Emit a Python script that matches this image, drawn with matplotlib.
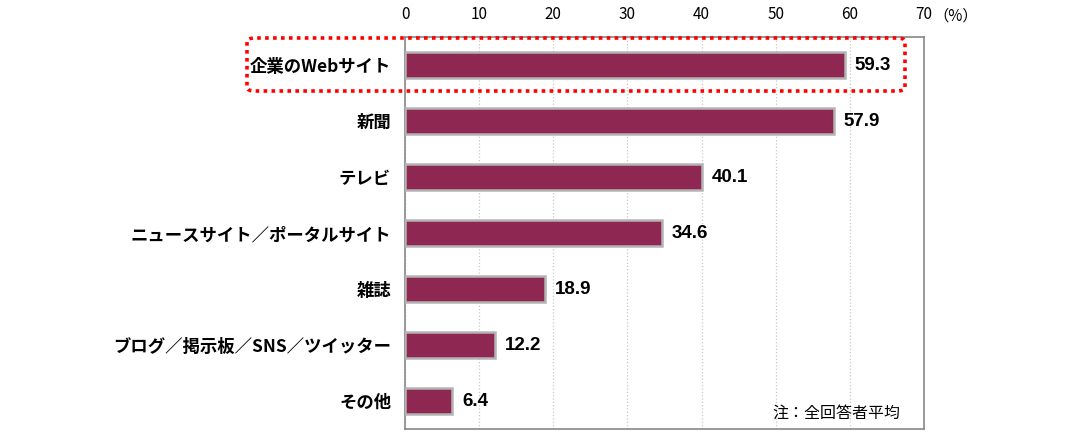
import matplotlib.pyplot as plt
from matplotlib.patches import FancyBboxPatch

plt.rcParams['font.family'] = ['Noto Sans CJK JP', 'DejaVu Sans']

categories = ["企業のWebサイト", "新聞", "テレビ", "ニュースサイト／ポータルサイト",
              "雑誌", "ブログ／掲示板／SNS／ツイッター", "その他"]
values = [59.3, 57.9, 40.1, 34.6, 18.9, 12.2, 6.4]
xticks = [0, 10, 20, 30, 40, 50, 60, 70]

fig = plt.figure(figsize=(10.8, 4.37), dpi=100)
ax = fig.add_axes([0.375, 0.018, 0.4805, 0.897])

pos = list(range(len(categories)))
ax.barh(pos, values, height=0.46, color='#8E2752', edgecolor='#B4B4B4', linewidth=1.8, zorder=3)
for y, v in zip(pos, values):
    ax.text(v + 1.3, y, f"{v:.1f}", va='center', ha='left', fontsize=13.5,
            fontweight='bold', family=['Liberation Sans', 'DejaVu Sans'])

ax.set_xlim(0, 70)
ax.set_ylim(len(categories) - 0.5, -0.5)
ax.set_yticks(pos)
ax.set_yticklabels(categories, fontsize=12.5, fontweight='bold')
ax.tick_params(axis='y', length=0, pad=10)
ax.xaxis.tick_top()
ax.set_xticks(xticks)
ax.set_xticklabels([str(t) for t in xticks], fontsize=11)
ax.tick_params(axis='x', length=0, pad=10)
ax.grid(axis='x', color='#C8C8C8', linestyle=':', linewidth=0.9, zorder=0)
for s in ax.spines.values():
    s.set_color('#888888')
    s.set_linewidth(1.2)

fig.text(0.885, 0.963, "（%）", fontsize=11, ha='center', va='center')
ax.text(0.955, 0.04, "注：全回答者平均", transform=ax.transAxes, ha='right', va='center', fontsize=11.5)

# red dotted highlight box around the first item
box = FancyBboxPatch((247 / 1080, 1 - 91 / 437), (905 - 247) / 1080, (91 - 38) / 437,
                     boxstyle="round,pad=0,rounding_size=0.008", transform=fig.transFigure,
                     fill=False, edgecolor='#FF0000', linestyle=(0, (1, 1.2)), linewidth=2.6,
                     zorder=10)
fig.add_artist(box)

fig.savefig("out.png", dpi=100)
